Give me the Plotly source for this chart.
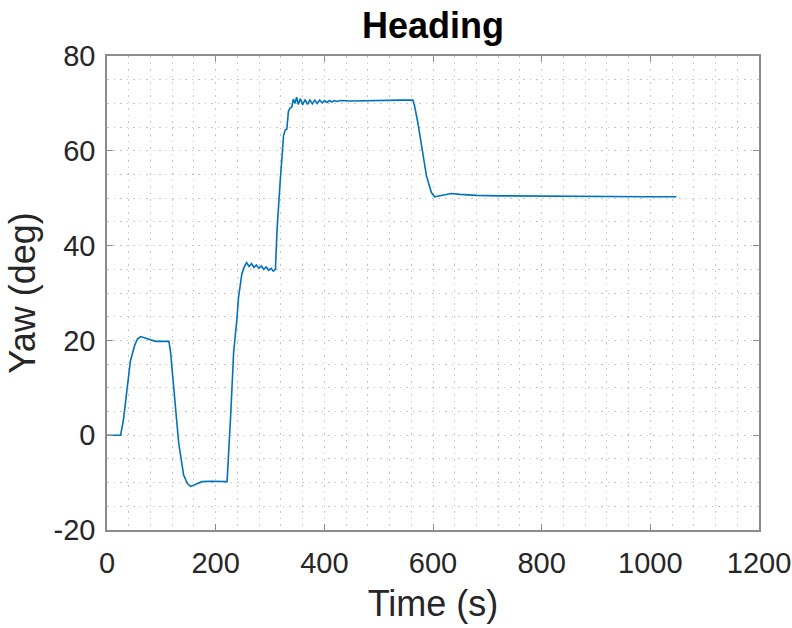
import plotly.graph_objects as go

time_s = [0, 25, 30, 43, 51, 56, 62, 70, 80, 89, 100, 114, 117, 125, 132, 141, 148, 154, 160, 168,
          175, 190, 205, 218, 221, 228, 233, 239, 242, 248, 252, 257, 261.5, 266, 270.5, 275, 279.5,
          284, 288.5, 293, 297.5, 302, 306, 310, 313, 319, 325, 328, 331, 334, 337, 340, 343, 346,
          349, 352, 356, 360, 364.5, 369, 373.5, 378, 382.5, 387, 391.5, 396, 400.5, 405, 409.5,
          414, 418.5, 423, 430, 450, 480, 510, 540, 563, 566, 572, 579, 588, 597, 603, 608, 620,
          634, 650, 680, 720, 800, 900, 994, 1048]
yaw_deg = [0, 0, 3, 15.6, 19.0, 20.3, 20.8, 20.5, 20.1, 19.8, 19.8, 19.8, 17.5, 7, -1.7, -8.4, -10.2,
           -10.8, -10.5, -10.1, -9.8, -9.7, -9.8, -9.9, -9.8, 5, 17.4, 24.4, 29, 33.9, 35.4, 36.4,
           35.6, 36.2, 35.4, 35.9, 35.2, 35.7, 35.0, 35.5, 34.8, 35.2, 34.6, 35.0, 43.4, 54.0, 63.2,
           64.4, 64.6, 68.4, 69.0, 69.2, 70.9, 70.0, 71.3, 69.8, 71.0, 69.7, 70.8, 69.8, 70.7, 69.9,
           70.7, 70.0, 70.7, 70.1, 70.6, 70.2, 70.6, 70.3, 70.6, 70.4, 70.6, 70.5, 70.6, 70.6, 70.7,
           70.7, 69.5, 66.0, 61.0, 54.7, 51.2, 50.3, 50.4, 50.7, 51.0, 50.8, 50.6, 50.5, 50.4, 50.35,
           50.3, 50.3]

x_ticks = [0, 200, 400, 600, 800, 1000, 1200]
y_ticks = [-20, 0, 20, 40, 60, 80]

font_family = "Liberation Sans, Arial, sans-serif"
axis_gray = "#8c8c8c"
grid_gray = "#c4c4c4"
grid_dash = "1.5px,5px"

fig = go.Figure()
fig.add_trace(go.Scatter(x=time_s, y=yaw_deg, mode="lines",
                         line=dict(color="#0072BD", width=1.6), showlegend=False))

common = dict(showline=True, linecolor=axis_gray, linewidth=1.5, mirror="ticks",
              ticks="inside", ticklen=6, tickcolor=axis_gray, tickwidth=1,
              showgrid=True, gridcolor=grid_gray, griddash=grid_dash, gridwidth=1,
              zeroline=False, automargin=False,
              tickfont=dict(size=29, color="#262626", family=font_family))

fig.update_xaxes(range=[0, 1200], tickvals=x_ticks, ticktext=[str(v) for v in x_ticks],
                 ticklabelstandoff=6,
                 minor=dict(dtick=40, tick0=0, showgrid=True, gridcolor=grid_gray,
                            griddash=grid_dash, gridwidth=1, ticks=""),
                 title=dict(text="Time (s)", font=dict(size=36, color="#262626", family=font_family),
                            standoff=13),
                 **common)
fig.update_yaxes(range=[-20, 80], tickvals=y_ticks, ticktext=[str(v) for v in y_ticks],
                 ticklabelstandoff=4,
                 minor=dict(dtick=5, tick0=0, showgrid=True, gridcolor=grid_gray,
                            griddash=grid_dash, gridwidth=1, ticks=""),
                 title=dict(text="Yaw (deg)", font=dict(size=36, color="#262626", family=font_family),
                            standoff=7),
                 **common)

fig.update_layout(
    width=792, height=628,
    margin=dict(l=107, r=33, t=56, b=98),
    plot_bgcolor="white", paper_bgcolor="white",
    title=dict(text="<b>Heading</b>", x=(107 + 759) / 2 / 792, xanchor="center",
               y=1 - 25 / 628, yanchor="middle",
               font=dict(size=36, color="black", family=font_family)),
)

fig.write_html("out.html", config={"displayModeBar": False},
               post_script="document.body.style.margin='0';")
